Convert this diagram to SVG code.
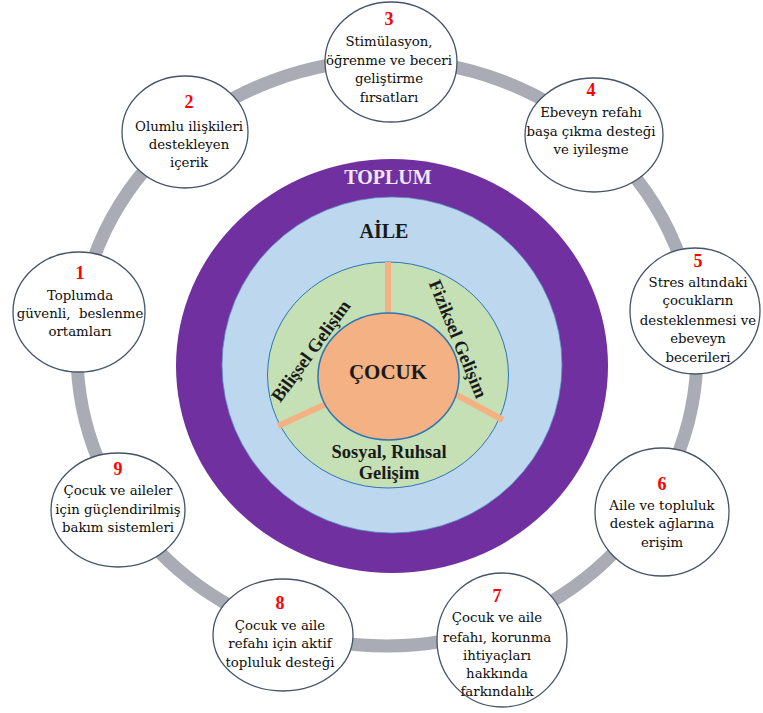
<svg xmlns="http://www.w3.org/2000/svg" width="763" height="713" viewBox="0 0 763 713">
<style>
.bub{fill:#ffffff;stroke:#44546a;stroke-width:1.3}
.num{font-family:"Liberation Serif",serif;font-weight:bold;font-size:18px;fill:#ff0000;text-anchor:middle}
.t{font-family:"DejaVu Serif","Liberation Serif",serif;font-size:13.3px;fill:#0d0d0d;text-anchor:middle;white-space:pre}
.c{font-family:"Liberation Serif",serif;font-weight:bold;text-anchor:middle;fill:#1a1a1a}
.div{stroke:#f4b183;stroke-width:6;stroke-linecap:butt}
</style>
<rect width="763" height="713" fill="#ffffff"/>
<g id="connectors">
<ellipse cx="387" cy="353" rx="310" ry="293" fill="none" stroke="#a9acb4" stroke-width="13"/>
</g>
<g id="toplum">
<ellipse cx="392" cy="366" rx="216" ry="207" fill="#7030a0"/>
<text class="c" x="388" y="184" font-size="20" style="fill:#f2e9f8">TOPLUM</text>
</g>
<g id="aile">
<ellipse cx="392" cy="365" rx="170" ry="168" fill="#bdd7ee" stroke="#5b8ec4" stroke-width="0.8"/>
<text class="c" x="384" y="238" font-size="20">AİLE</text>
</g>
<g id="gelisim">
<ellipse cx="388" cy="375" rx="120.5" ry="113" fill="#c5e0b4" stroke="#2e75b6" stroke-width="1"/>
<line class="div" x1="388" y1="262" x2="388" y2="315"/>
<line class="div" x1="455" y1="394" x2="503" y2="420"/>
<line class="div" x1="326" y1="404" x2="278" y2="426"/>
<text class="c" font-size="18.5" transform="translate(311,351) rotate(-54)" y="6">Bilişsel Gelişim</text>
<text class="c" font-size="18.5" transform="translate(458,339) rotate(67.7)" y="6">Fiziksel Gelişim</text>
<text class="c" x="389" y="458" font-size="18.5">Sosyal, Ruhsal</text>
<text class="c" x="389" y="479" font-size="18.5">Gelişim</text>
</g>
<g id="cocuk">
<ellipse cx="388.5" cy="376.5" rx="70.5" ry="63.5" fill="#f4b183" stroke="#2e75b6" stroke-width="1.5"/>
<text class="c" x="388" y="379" font-size="21">ÇOCUK</text>
</g>
<g id="n1">
<ellipse class="bub" cx="79" cy="312" rx="66" ry="60"/>
<text class="num" x="80" y="279">1</text>
<text class="t" x="80" y="300">Toplumda</text>
<text class="t" x="80" y="318">güvenli,  beslenme</text>
<text class="t" x="80" y="336">ortamları</text>
</g>
<g id="n2">
<ellipse class="bub" cx="185" cy="132" rx="63" ry="56"/>
<text class="num" x="189" y="108">2</text>
<text class="t" x="189" y="131">Olumlu ilişkileri</text>
<text class="t" x="189" y="149">destekleyen</text>
<text class="t" x="189" y="167">içerik</text>
</g>
<g id="n3">
<ellipse class="bub" cx="391" cy="62" rx="66" ry="60"/>
<text class="num" x="389" y="25">3</text>
<text class="t" x="389" y="46">Stimülasyon,</text>
<text class="t" x="389" y="65">öğrenme ve beceri</text>
<text class="t" x="389" y="83">geliştirme</text>
<text class="t" x="389" y="102">fırsatları</text>
</g>
<g id="n4">
<ellipse class="bub" cx="594" cy="135" rx="69" ry="57"/>
<text class="num" x="591" y="96">4</text>
<text class="t" x="591" y="117">Ebeveyn refahı</text>
<text class="t" x="591" y="136">başa çıkma desteği</text>
<text class="t" x="591" y="154">ve iyileşme</text>
</g>
<g id="n5">
<ellipse class="bub" cx="695" cy="311" rx="65" ry="63"/>
<text class="num" x="698" y="267">5</text>
<text class="t" x="698" y="287">Stres altındaki</text>
<text class="t" x="698" y="305">çocukların</text>
<text class="t" x="698" y="325">desteklenmesi ve</text>
<text class="t" x="698" y="343">ebeveyn</text>
<text class="t" x="698" y="362">becerileri</text>
</g>
<g id="n6">
<ellipse class="bub" cx="662" cy="512" rx="67" ry="64"/>
<text class="num" x="662" y="490">6</text>
<text class="t" x="662" y="510">Aile ve topluluk</text>
<text class="t" x="662" y="528">destek ağlarına</text>
<text class="t" x="662" y="547">erişim</text>
</g>
<g id="n7">
<ellipse class="bub" cx="502" cy="640" rx="65" ry="67"/>
<text class="num" x="497" y="602">7</text>
<text class="t" x="497" y="622">Çocuk ve aile</text>
<text class="t" x="497" y="642">refahı, korunma</text>
<text class="t" x="497" y="660">ihtiyaçları</text>
<text class="t" x="497" y="678">hakkında</text>
<text class="t" x="497" y="696">farkındalık</text>
</g>
<g id="n8">
<ellipse class="bub" cx="283" cy="635" rx="70" ry="56"/>
<text class="num" x="280" y="609">8</text>
<text class="t" x="280" y="630">Çocuk ve aile</text>
<text class="t" x="280" y="648">refahı için aktif</text>
<text class="t" x="280" y="667">topluluk desteği</text>
</g>
<g id="n9">
<ellipse class="bub" cx="118" cy="510" rx="67" ry="57"/>
<text class="num" x="118" y="475">9</text>
<text class="t" x="118" y="495">Çocuk ve aileler</text>
<text class="t" x="118" y="514">için güçlendirilmiş</text>
<text class="t" x="118" y="532">bakım sistemleri</text>
</g>
</svg>
